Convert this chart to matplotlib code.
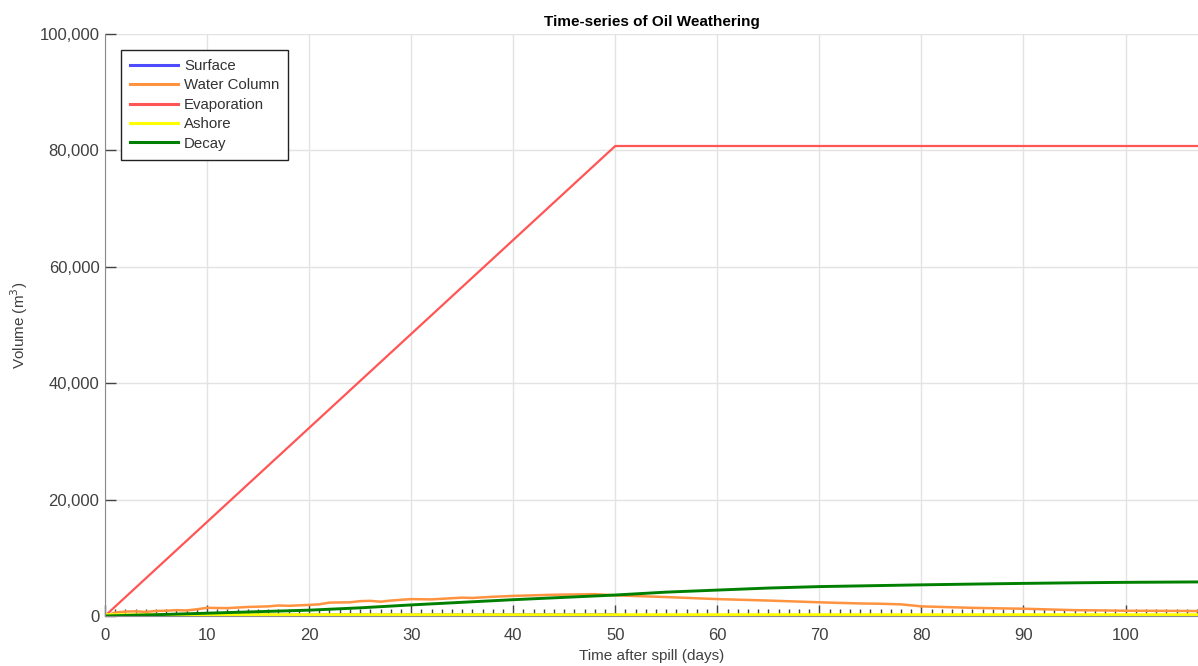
import matplotlib
matplotlib.use('Agg')
import matplotlib.pyplot as plt
from matplotlib.ticker import FuncFormatter, MultipleLocator

plt.rcParams['font.family'] = ['Liberation Sans', 'DejaVu Sans']

# 数据
surface_days = [0, 1, 20, 50, 51, 107.1]
surface_vol = [0, 150, 200, 250, 0, 0]

water_days = [0, 1, 2, 3, 4, 5, 6, 7, 8, 9, 10, 12, 14, 16, 17, 18, 20, 21,
              22, 24, 25, 26, 27, 28, 30, 32, 34, 35, 36, 38, 40, 42, 44, 46,
              48, 50, 55, 60, 65, 70, 74, 76, 78, 80, 82, 85, 88, 90, 93, 95,
              98, 100, 104, 107.1]
water_vol = [0, 600, 750, 800, 700, 860, 900, 1000, 950, 1150, 1400, 1350,
             1550, 1650, 1800, 1750, 1900, 2000, 2300, 2350, 2550, 2600, 2450,
             2650, 2900, 2850, 3050, 3150, 3100, 3300, 3450, 3550, 3650, 3700,
             3750, 3550, 3250, 2900, 2650, 2350, 2150, 2100, 2000, 1650, 1550,
             1400, 1300, 1250, 1100, 1000, 950, 900, 880, 850]

evap_days = [0, 50, 107.1]
evap_vol = [0, 80750, 80750]

ashore_days = [0, 107.1]
ashore_vol = [0, 0]

decay_days = [0, 5, 10, 15, 20, 25, 30, 35, 40, 45, 50, 55, 60, 65, 70, 75,
              80, 85, 90, 95, 100, 107.1]
decay_vol = [0, 220, 480, 740, 1000, 1400, 1900, 2350, 2800, 3200, 3600,
             4100, 4450, 4800, 5050, 5200, 5350, 5480, 5600, 5700, 5780, 5850]

# 绘图
fig = plt.figure(figsize=(11.98, 6.66), dpi=100)
ax = fig.add_axes([0.0876, 0.0751, 1 - 0.0876, 0.949 - 0.0751])

ax.plot(surface_days, surface_vol, color='#4d4dff', lw=1.8, label='Surface')
ax.plot(water_days, water_vol, color='#ff9340', lw=1.8, label='Water Column')
ax.plot(evap_days, evap_vol, color='#ff5555', lw=1.6, label='Evaporation')
ax.plot(ashore_days, ashore_vol, color='#ffff00', lw=4, label='Ashore')
ax.plot(decay_days, decay_vol, color='#008000', lw=2.1, label='Decay')

# 设置格式
ax.set_xlim(0, 107.1)
ax.set_ylim(0, 100000)
ax.xaxis.set_major_locator(MultipleLocator(10))
ax.xaxis.set_minor_locator(MultipleLocator(1))
ax.yaxis.set_major_locator(MultipleLocator(20000))
ax.yaxis.set_major_formatter(FuncFormatter(lambda v, p: f'{int(v):,}'))
ax.grid(True, which='major', color='#e3e3e3', lw=1)
ax.set_axisbelow(True)

for side in ['top', 'right']:
    ax.spines[side].set_visible(False)
for side in ['left', 'bottom']:
    ax.spines[side].set_color('#8a8a8a')

ax.tick_params(which='major', direction='in', length=8, width=1,
               color='#444444', labelsize=12, labelcolor='#404040', pad=9)
ax.tick_params(which='minor', direction='in', length=5, width=1,
               color='#444444')
ax.tick_params(axis='y', which='minor', length=0)
ax.tick_params(axis='y', which='major', pad=4)

ax.set_title('Time-series of Oil Weathering', fontsize=11, fontweight='bold',
             pad=6)
ax.set_xlabel('Time after spill (days)', fontsize=11, color='#404040',
              labelpad=4)
ax.set_ylabel('Volume (m$^3$)', fontsize=11, color='#404040')
ax.yaxis.set_label_coords(-0.0686, 0.5)

leg = ax.legend(loc='upper left', bbox_to_anchor=(0.0146, 0.9725),
                borderaxespad=0, fontsize=10.8, handlelength=3.2,
                handletextpad=0.4, labelspacing=0.36, borderpad=0.6,
                fancybox=False, framealpha=1, edgecolor='#222222')
leg.get_frame().set_linewidth(1)
for line in leg.get_lines():
    line.set_linewidth(2.2)
for t in leg.get_texts():
    t.set_color('#333333')

fig.savefig('out.png', dpi=100)
